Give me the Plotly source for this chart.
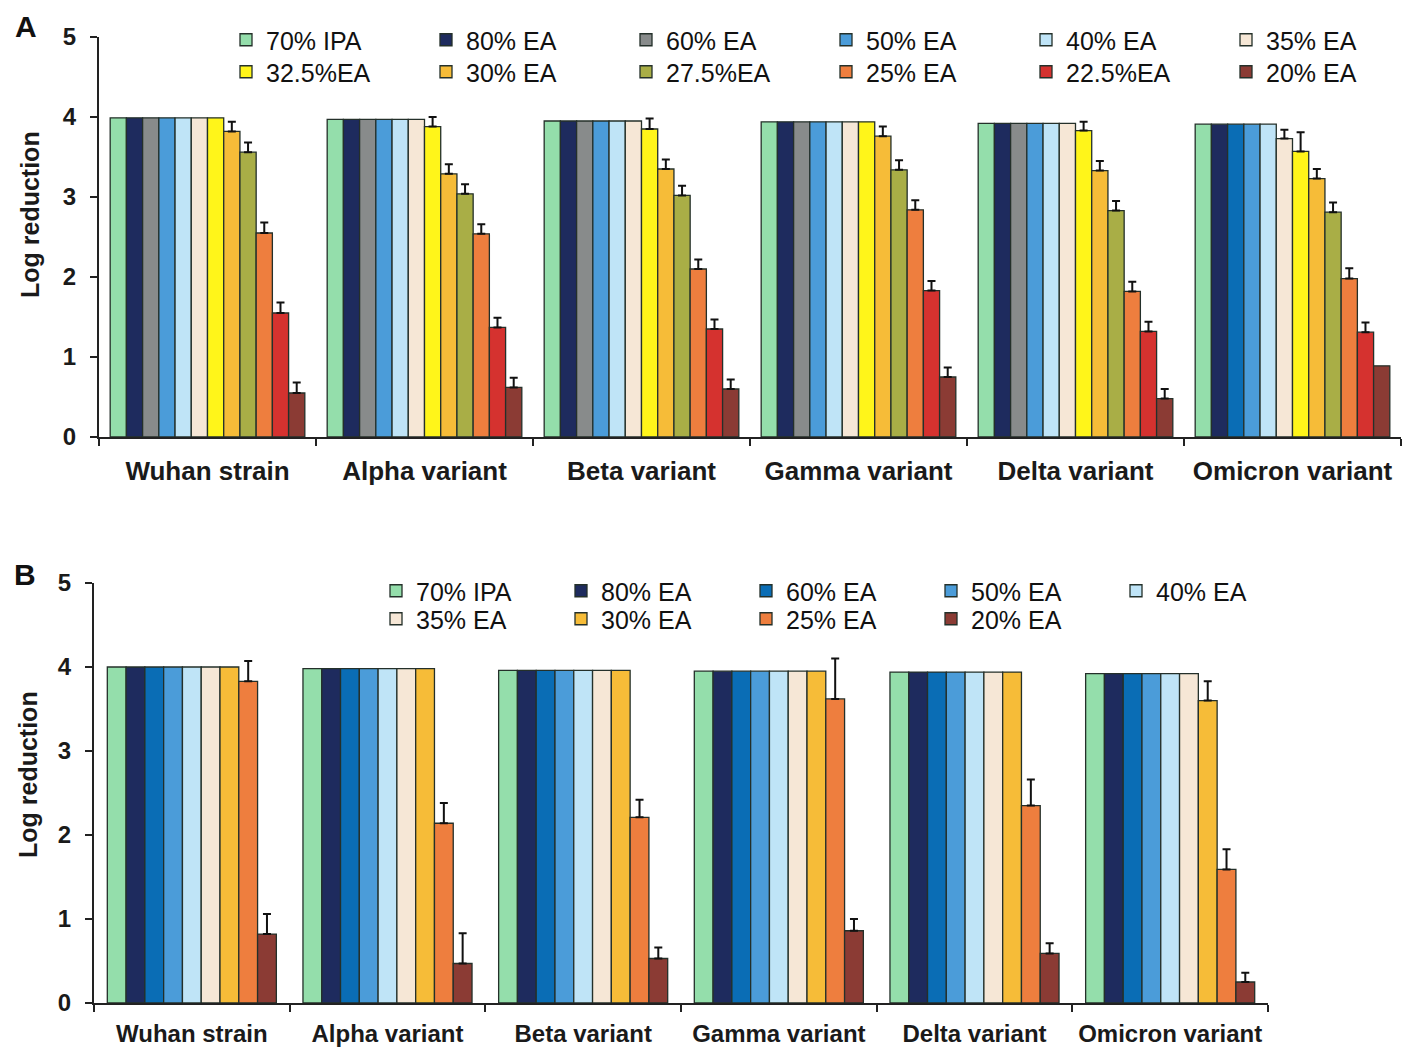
import numpy as np
import plotly.graph_objects as go

# ---------------- data ----------------
groups = ["Wuhan strain", "Alpha variant", "Beta variant",
          "Gamma variant", "Delta variant", "Omicron variant"]

# Panel A
a_labels = ["70% IPA", "80% EA", "60% EA", "50% EA", "40% EA", "35% EA",
            "32.5%EA", "30% EA", "27.5%EA", "25% EA", "22.5%EA", "20% EA"]
a_ipa70 = [3.99, 3.97, 3.95, 3.94, 3.92, 3.91]
a_ea80 = [3.99, 3.97, 3.95, 3.94, 3.92, 3.91]
a_ea60 = [3.99, 3.97, 3.95, 3.94, 3.92, 3.91]
a_ea50 = [3.99, 3.97, 3.95, 3.94, 3.92, 3.91]
a_ea40 = [3.99, 3.97, 3.95, 3.94, 3.92, 3.91]
a_ea35 = [3.99, 3.97, 3.95, 3.94, 3.92, 3.73]
a_ea325 = [3.99, 3.88, 3.85, 3.94, 3.83, 3.57]
a_ea30 = [3.82, 3.29, 3.35, 3.76, 3.33, 3.23]
a_ea275 = [3.56, 3.04, 3.02, 3.34, 2.83, 2.81]
a_ea25 = [2.55, 2.54, 2.10, 2.84, 1.82, 1.98]
a_ea225 = [1.55, 1.37, 1.35, 1.83, 1.32, 1.31]
a_ea20 = [0.55, 0.62, 0.60, 0.75, 0.48, 0.89]

a_err35 = [np.nan, np.nan, np.nan, np.nan, np.nan, 0.11]
a_err325 = [np.nan, 0.12, 0.13, np.nan, 0.11, 0.24]
a_err30 = [0.12, 0.12, 0.12, 0.12, 0.12, 0.12]
a_err275 = [0.12, 0.12, 0.12, 0.12, 0.12, 0.12]
a_err25 = [0.13, 0.12, 0.12, 0.12, 0.12, 0.13]
a_err225 = [0.13, 0.12, 0.12, 0.12, 0.12, 0.12]
a_err20 = [0.13, 0.12, 0.12, 0.12, 0.12, np.nan]

# Panel B
b_labels = ["70% IPA", "80% EA", "60% EA", "50% EA", "40% EA",
            "35% EA", "30% EA", "25% EA", "20% EA"]
b_ipa70 = [4.00, 3.98, 3.96, 3.95, 3.94, 3.92]
b_ea80 = [4.00, 3.98, 3.96, 3.95, 3.94, 3.92]
b_ea60 = [4.00, 3.98, 3.96, 3.95, 3.94, 3.92]
b_ea50 = [4.00, 3.98, 3.96, 3.95, 3.94, 3.92]
b_ea40 = [4.00, 3.98, 3.96, 3.95, 3.94, 3.92]
b_ea35 = [4.00, 3.98, 3.96, 3.95, 3.94, 3.92]
b_ea30 = [4.00, 3.98, 3.96, 3.95, 3.94, 3.60]
b_ea25 = [3.83, 2.14, 2.21, 3.62, 2.35, 1.59]
b_ea20 = [0.82, 0.47, 0.53, 0.86, 0.59, 0.25]

b_err30 = [np.nan, np.nan, np.nan, np.nan, np.nan, 0.23]
b_err25 = [0.24, 0.24, 0.21, 0.48, 0.31, 0.24]
b_err20 = [0.24, 0.36, 0.13, 0.14, 0.12, 0.11]

# ---------------- styles ----------------
FONT = "Arial, 'Liberation Sans', sans-serif"
C70 = "#94DEAB"
C80 = "#1E2B5E"
C60_GREY = "#888B8B"
C60_BLUE = "#0A6DB5"
C50 = "#4B9CD9"
C40 = "#BFE4F7"
C35 = "#F6E7D6"
C325 = "#FFF51A"
C30 = "#F6BC38"
C275 = "#A9AE46"
C25 = "#EE7E3E"
C225 = "#D5322F"
C20 = "#8B3B34"
OUTLINE = "#24302a"
AXIS = "#222222"

a_colors = [C70, C80, [C60_GREY] * 5 + [C60_BLUE], C50, C40, C35,
            C325, C30, C275, C25, C225, C20]
b_colors = [C70, C80, C60_BLUE, C50, C40, C35, C30, C25, C20]

a_values = [a_ipa70, a_ea80, a_ea60, a_ea50, a_ea40, a_ea35,
            a_ea325, a_ea30, a_ea275, a_ea25, a_ea225, a_ea20]
a_errors = [None, None, None, None, None, a_err35,
            a_err325, a_err30, a_err275, a_err25, a_err225, a_err20]
b_values = [b_ipa70, b_ea80, b_ea60, b_ea50, b_ea40, b_ea35,
            b_ea30, b_ea25, b_ea20]
b_errors = [None, None, None, None, None, None, b_err30, b_err25, b_err20]

fig = go.Figure()


def add_panel(labels, values, errors, colors, xaxis, yaxis, group_frac,
              legends, split, entry_w):
    n = len(labels)
    w = group_frac / n
    for i, (lab, vals, err, col) in enumerate(zip(labels, values, errors, colors)):
        kw = {}
        if err is not None:
            kw["error_y"] = dict(type="data", array=np.array(err, dtype=float),
                                 symmetric=False, color="#111111",
                                 thickness=2, width=4)
        last_in_row = (i == split - 1) or (i == n - 1)
        fig.add_trace(go.Bar(
            name=lab, x=groups, y=vals,
            marker=dict(color=col, line=dict(color=OUTLINE, width=1.3)),
            width=w, offset=-group_frac / 2 + i * w,
            xaxis=xaxis, yaxis=yaxis,
            legend=legends[0] if i < split else legends[1],
            legendwidth=105 if last_in_row else entry_w,
            **kw))


add_panel(a_labels, a_values, a_errors, a_colors, "x", "y", 0.897,
          ("legend", "legend2"), 6, 155)
add_panel(b_labels, b_values, b_errors, b_colors, "x2", "y2", 0.864,
          ("legend3", "legend4"), 5, 140)

# the page body has an 8px margin; size and place everything accordingly
OFF = 8
W, H = 1414 - OFF, 1050 - OFF


def px_x(p):
    return (p - OFF) / W


def px_y(p):
    return 1 - (p - OFF) / H


xaxis_common = dict(type="category", range=[-0.5, 5.5], showline=True,
                    linecolor=AXIS, linewidth=2, ticks="outside",
                    tickson="boundaries", ticklen=7, tickwidth=2,
                    tickcolor=AXIS, showgrid=False, zeroline=False,
                    automargin=False, fixedrange=True, tickangle=0)
yaxis_common = dict(range=[0, 5], dtick=1, showline=True, linecolor=AXIS,
                    linewidth=2, ticks="outside", ticklen=7, tickwidth=2,
                    tickcolor=AXIS, showgrid=False, zeroline=False,
                    automargin=False, ticklabelstandoff=9,
                    tickfont=dict(family=FONT, size=24, color="#1a1a1a",
                                  weight="bold"))

legend_common = dict(orientation="h", xanchor="left", yanchor="middle",
                     bgcolor="rgba(0,0,0,0)", borderwidth=0,
                     entrywidthmode="pixels", traceorder="normal",
                     font=dict(family=FONT, size=25, color="#111111"))

fig.update_layout(
    width=W, height=H, autosize=False,
    margin=dict(l=0, r=0, t=0, b=0, autoexpand=False),
    paper_bgcolor="white", plot_bgcolor="white",
    barmode="overlay",
    font=dict(family=FONT, color="#111111"),
    xaxis=dict(domain=[px_x(99), px_x(1401)], anchor="y",
               tickfont=dict(family=FONT, size=26, color="#1a1a1a",
                             weight="bold"),
               ticklabelstandoff=10, **xaxis_common),
    yaxis=dict(domain=[px_y(437), px_y(37)], anchor="x", **yaxis_common),
    xaxis2=dict(domain=[px_x(94), px_x(1268)], anchor="y2",
                tickfont=dict(family=FONT, size=24, color="#1a1a1a",
                              weight="bold"),
                ticklabelstandoff=8, **xaxis_common),
    yaxis2=dict(domain=[px_y(1003), px_y(583)], anchor="x2", **yaxis_common),
    legend=dict(x=px_x(226), y=px_y(40), **legend_common),
    legend2=dict(x=px_x(226), y=px_y(72), **legend_common),
    legend3=dict(x=px_x(376), y=px_y(591), **legend_common),
    legend4=dict(x=px_x(376), y=px_y(619), **legend_common),
    annotations=[
        dict(text="A", x=px_x(26), y=px_y(27), xref="paper", yref="paper",
             xanchor="center", yanchor="middle", showarrow=False,
             font=dict(family=FONT, size=30, weight="bold", color="#111111")),
        dict(text="B", x=px_x(25), y=px_y(574), xref="paper", yref="paper",
             xanchor="center", yanchor="middle", showarrow=False,
             font=dict(family=FONT, size=30, weight="bold", color="#111111")),
        dict(text="Log reduction", x=px_x(30), y=px_y(215), xref="paper",
             yref="paper", xanchor="center", yanchor="middle",
             textangle=-90, showarrow=False,
             font=dict(family=FONT, size=25, weight="bold", color="#1a1a1a")),
        dict(text="Log reduction", x=px_x(28), y=px_y(775), xref="paper",
             yref="paper", xanchor="center", yanchor="middle",
             textangle=-90, showarrow=False,
             font=dict(family=FONT, size=25, weight="bold", color="#1a1a1a")),
    ],
)

fig.write_html("out.html")
